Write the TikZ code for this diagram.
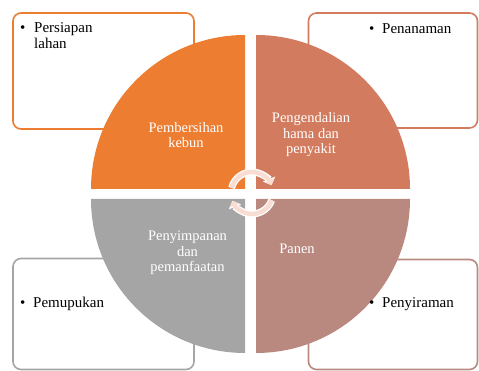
\documentclass[tikz,border=0pt]{standalone}
\usepackage{fontspec}
\setmainfont{Liberation Serif}
\usetikzlibrary{arrows.meta}

\definecolor{orangeq}{HTML}{ED7D31}
\definecolor{rustq}{HTML}{D27B5E}
\definecolor{greyq}{HTML}{A5A5A5}
\definecolor{roseq}{HTML}{B9887F}
\definecolor{paleq}{HTML}{F9DDD3}

\tikzstyle{sidebox} = [rectangle, rounded corners=8pt, line width=1.6pt, fill=white, inner sep=0pt]
\tikzstyle{item} = [font=\fontsize{15}{16}\selectfont, text=black, align=left, anchor=base west, inner sep=0pt]
\tikzstyle{quadtext} = [font=\fontsize{14.5}{15.5}\selectfont, text=white, align=center, inner sep=0pt]
\tikzstyle{cycout} = [line width=7pt, white, -{Triangle[length=6.5pt,width=13pt]}]
\tikzstyle{cycin} = [line width=4.5pt, paleq, -{Triangle[length=5pt,width=10pt]}]

\begin{document}
\begin{tikzpicture}[x=1pt, y=1pt]
\useasboundingbox (0,0) rectangle (479,371);

%% BOXES

\node (b1) [sidebox, draw=orangeq, minimum width=181pt, minimum height=116pt] at (103.5,300) {};
\node (b2) [sidebox, draw=rustq, minimum width=169pt, minimum height=115pt] at (393,300.5) {};
\node (b3) [sidebox, draw=greyq, minimum width=181pt, minimum height=111pt] at (103.5,57) {};
\node (b4) [sidebox, draw=roseq, minimum width=169pt, minimum height=110pt] at (393,56.5) {};

%% QUADRANTS

\fill [orangeq] (245,182) -- (91,182) arc[start angle=180, end angle=90, radius=154] -- cycle;
\fill [rustq] (256,182) -- (256,336) arc[start angle=90, end angle=0, radius=154] -- cycle;
\fill [greyq] (245,172) -- (91,172) arc[start angle=180, end angle=270, radius=154] -- cycle;
\fill [roseq] (256,172) -- (410,172) arc[start angle=0, end angle=-90, radius=154] -- cycle;

%% CYCLE ARROWS

\coordinate (c0) at (252,178);
\draw [cycout] ([shift={(166:21)}]c0) arc[start angle=166, end angle=22, radius=21];
\draw [cycin] ([shift={(166:21)}]c0) arc[start angle=166, end angle=22, radius=21];
\draw [cycout] ([shift={(-20:21)}]c0) arc[start angle=-20, end angle=-158, radius=21];
\draw [cycin] ([shift={(-20:21)}]c0) arc[start angle=-20, end angle=-158, radius=21];

%% NODES

\node (q1) [quadtext] at (186,236) {Pembersihan\\kebun};
\node (q2) [quadtext] at (311,236) {Pengendalian\\hama dan\\penyakit};
\node (q3) [quadtext] at (187.5,118) {Penyimpanan\\dan\\pemanfaatan};
\node (q4) [quadtext, anchor=base] at (297,117) {Panen};

\node (t1) [item] at (20,322) {\makebox[14pt][l]{\textbullet}Persiapan\\\hspace*{14pt}lahan};
\node (t2) [item] at (369,337) {\makebox[13pt][l]{\textbullet}Penanaman};
\node (t3) [item] at (20,63) {\makebox[13pt][l]{\textbullet}Pemupukan};
\node (t4) [item] at (369,63) {\makebox[13pt][l]{\textbullet}Penyiraman};

\end{tikzpicture}
\end{document}
